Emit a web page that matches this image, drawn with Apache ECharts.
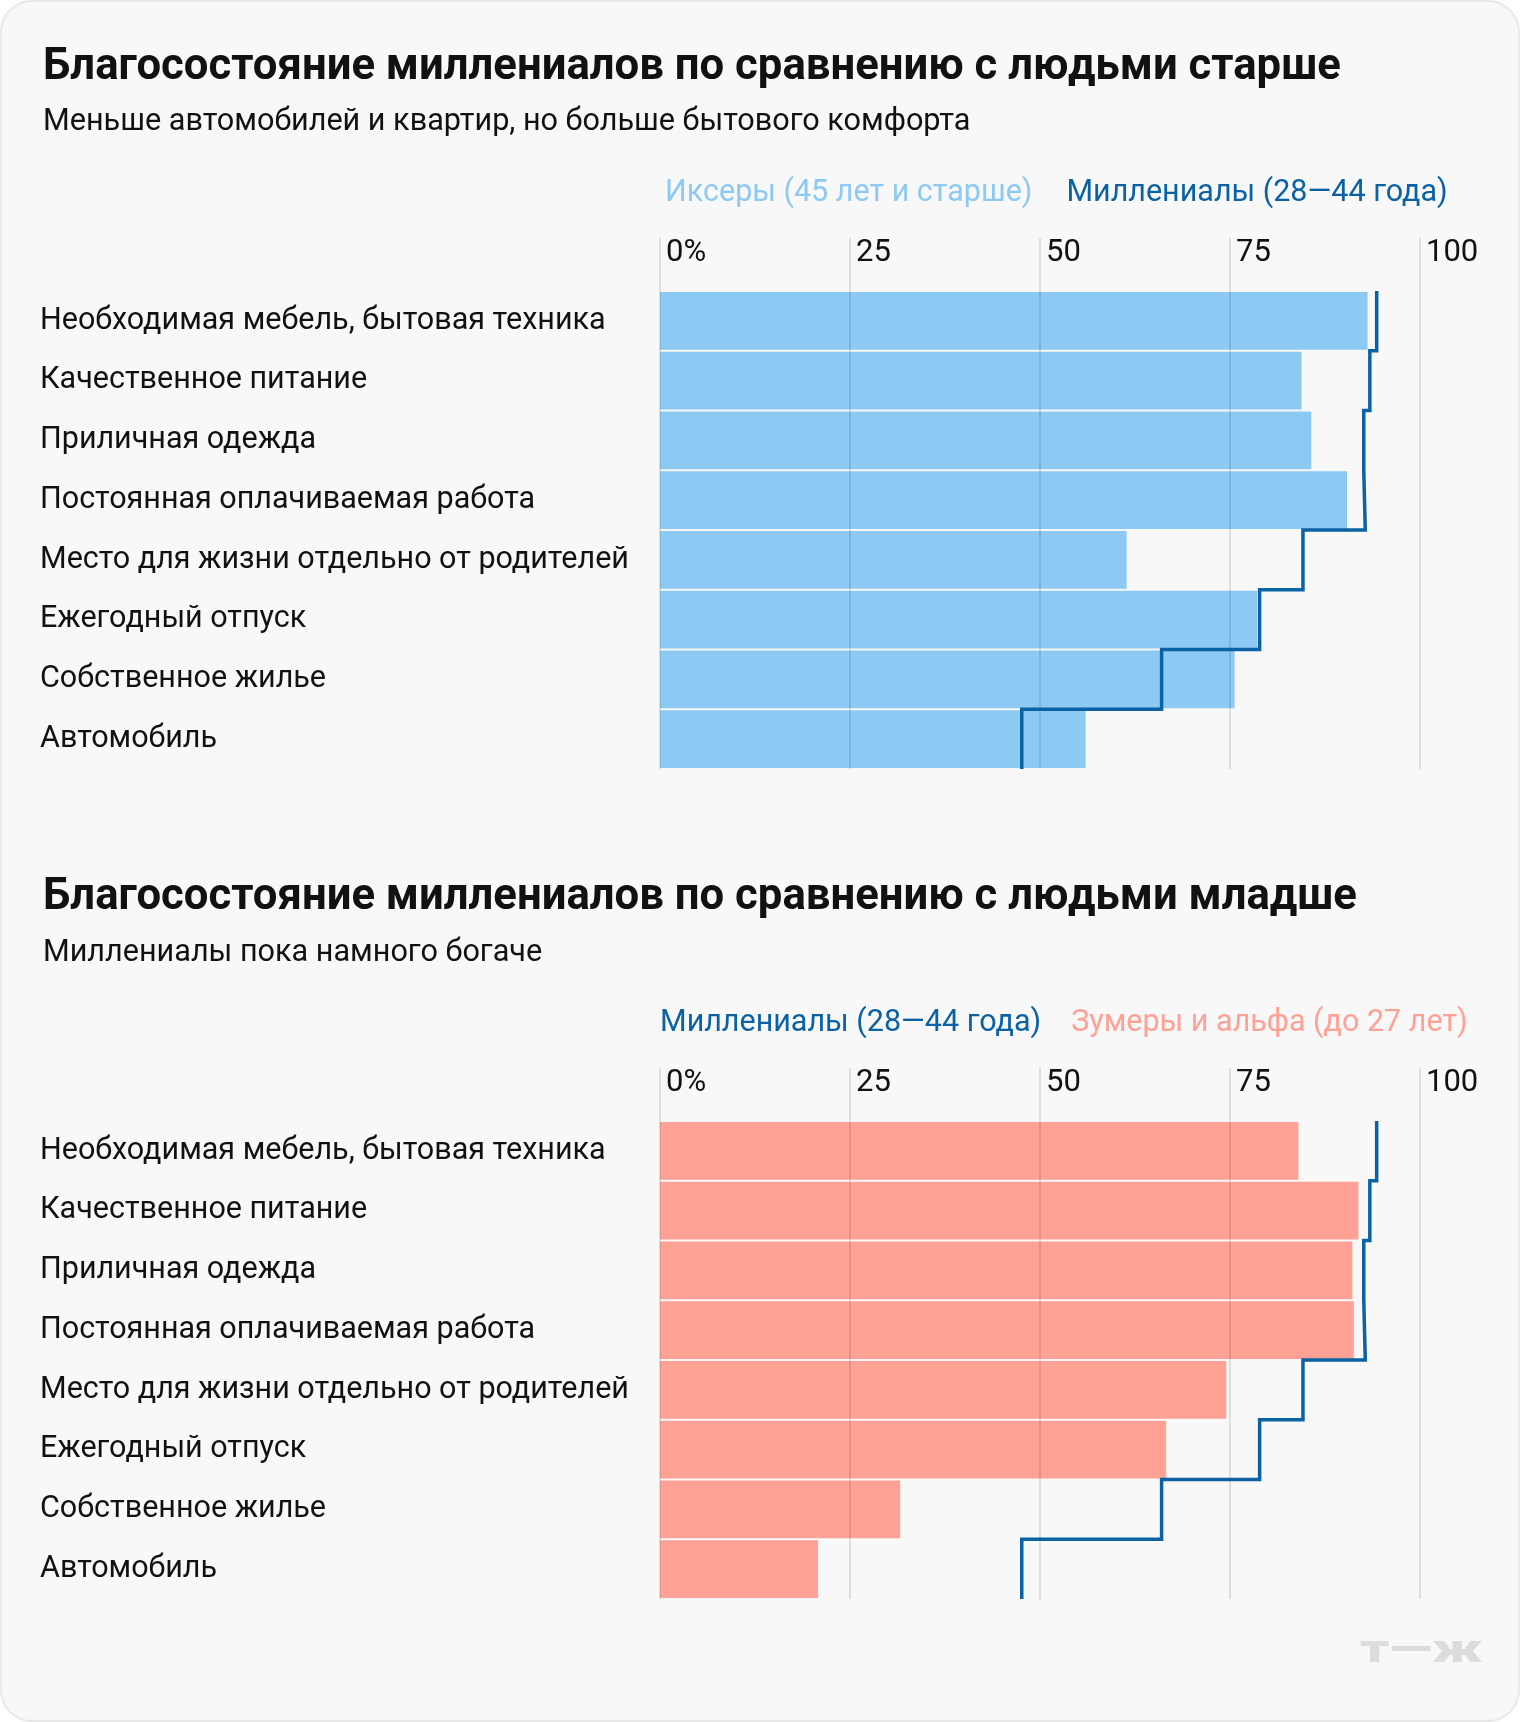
<!DOCTYPE html>
<html>
<head>
<meta charset="utf-8">
<script src="https://cdn.jsdelivr.net/npm/echarts@6/dist/echarts.min.js"></script>
<style>
  html, body { margin: 0; padding: 0; background: #ffffff; }
  #panel {
    position: absolute; left: 0; top: 0; width: 1520px; height: 1722px;
    box-sizing: border-box; border: 2px solid #e9e9e9; border-radius: 32px;
    background: #f8f8f8; overflow: hidden;
  }
  #chart { position: absolute; left: 0; top: 0; width: 1520px; height: 1722px; }
</style>
</head>
<body>
<div id="panel"></div>
<div id="chart"></div>
<script>
const categories = [
  'Необходимая мебель, бытовая техника',
  'Качественное питание',
  'Приличная одежда',
  'Постоянная оплачиваемая работа',
  'Место для жизни отдельно от родителей',
  'Ежегодный отпуск',
  'Собственное жилье',
  'Автомобиль'
];
const genX = [93.1, 84.4, 85.7, 90.4, 61.4, 78.6, 75.6, 56.0];
const millennials = [94.3, 93.4, 92.6, 92.8, 84.6, 78.9, 66.0, 47.6];
const genZ = [84.0, 91.9, 91.1, 91.3, 74.5, 66.6, 31.6, 20.8];
const tickValues = [0, 25, 50, 75, 100];
const tickLabels = ['0%', '25', '50', '75', '100'];

const nameX = 'Иксеры (45 лет и старше)';
const nameM = 'Миллениалы (28—44 года)';
const nameZ = 'Зумеры и альфа (до 27 лет)';

const COL_X = '#8cc9f3';
const COL_M = '#0a61a3';
const COL_Z = '#ffa194';
const FONT = 'Roboto';

function stepData(values) {
  const out = [];
  values.forEach((v, i) => { out.push([v, i]); out.push([v, i + 1]); });
  return out;
}

function xAxisFor(gi) {
  return {
    type: 'value', gridIndex: gi, position: 'top', min: 0, max: 100,
    interval: tickValues[1] - tickValues[0], z: 3,
    axisLine: { show: false },
    axisTick: { show: true, length: 53, lineStyle: { color: 'rgba(0,0,0,0.1)', width: 2 } },
    splitLine: { show: true, lineStyle: { color: 'rgba(0,0,0,0.1)', width: 2 } },
    axisLabel: {
      margin: 38, align: 'left', verticalAlign: 'middle', padding: [0, 0, 0, 6],
      fontSize: 31, fontFamily: FONT, color: '#111',
      formatter: v => tickLabels[tickValues.indexOf(v)]
    }
  };
}
function yCatFor(gi) {
  return {
    type: 'category', gridIndex: gi, inverse: true, data: categories,
    axisLine: { show: false }, axisTick: { show: false }, splitLine: { show: false },
    axisLabel: { margin: 620, align: 'left', verticalAlign: 'middle', padding: [7, 0, 0, 0],
      fontSize: 30.5, fontFamily: FONT, color: '#111' }
  };
}
function yValFor(gi) {
  return { type: 'value', gridIndex: gi, min: 0, max: categories.length, inverse: true, show: false, splitLine: { show: false } };
}

const chart = echarts.init(document.getElementById('chart'), null, { renderer: 'canvas' });
chart.setOption({
  backgroundColor: 'transparent',
  animation: false,
  title: [
    { text: 'Благосостояние миллениалов по сравнению с людьми старше', left: 38, top: 41,
      textStyle: { fontSize: 43.7, fontWeight: 'bold', fontFamily: FONT, color: '#111' } },
    { text: 'Меньше автомобилей и квартир, но больше бытового комфорта', left: 38, top: 102,
      textStyle: { fontSize: 30.6, fontWeight: 'normal', fontFamily: FONT, color: '#111' } },
    { text: 'Благосостояние миллениалов по сравнению с людьми младше', left: 38, top: 871,
      textStyle: { fontSize: 43.7, fontWeight: 'bold', fontFamily: FONT, color: '#111' } },
    { text: 'Миллениалы пока намного богаче', left: 38, top: 933,
      textStyle: { fontSize: 30.6, fontWeight: 'normal', fontFamily: FONT, color: '#111' } }
  ],
  legend: [
    { left: 655, top: 173, icon: 'rect', itemWidth: 0, itemHeight: 0, itemGap: 29, selectedMode: false,
      textStyle: { fontSize: 30.5, fontFamily: FONT },
      data: [ { name: nameX, textStyle: { color: COL_X } }, { name: nameM, textStyle: { color: COL_M } } ] },
    { left: 650, top: 1003, icon: 'rect', itemWidth: 0, itemHeight: 0, itemGap: 25, selectedMode: false,
      textStyle: { fontSize: 30.5, fontFamily: FONT },
      data: [ { name: nameM, textStyle: { color: COL_M } }, { name: nameZ, textStyle: { color: COL_Z } } ] }
  ],
  grid: [
    { left: 660, width: 760, top: 291, height: 478 },
    { left: 660, width: 760, top: 1121, height: 478 }
  ],
  xAxis: [ xAxisFor(0), xAxisFor(1) ],
  yAxis: [ yCatFor(0), yValFor(0), yCatFor(1), yValFor(1) ],
  series: [
    { name: nameX, type: 'bar', xAxisIndex: 0, yAxisIndex: 0, data: genX, barCategoryGap: '3.5%',
      itemStyle: { color: COL_X }, z: 2 },
    { name: nameM, type: 'line', xAxisIndex: 0, yAxisIndex: 1, data: stepData(millennials),
      symbol: 'none', lineStyle: { color: COL_M, width: 3.5, join: 'miter', cap: 'butt' }, itemStyle: { color: COL_M }, z: 5 },
    { name: nameZ, type: 'bar', xAxisIndex: 1, yAxisIndex: 2, data: genZ, barCategoryGap: '3.5%',
      itemStyle: { color: COL_Z }, z: 2 },
    { name: nameM, type: 'line', xAxisIndex: 1, yAxisIndex: 3, data: stepData(millennials),
      symbol: 'none', lineStyle: { color: COL_M, width: 3.5, join: 'miter', cap: 'butt' }, itemStyle: { color: COL_M }, z: 5 }
  ],
  graphic: [
    { type: 'text', x: 1360, y: 1652, scaleX: 1.48, scaleY: 1,
      style: { text: 'т—ж', font: '900 38px Roboto', fill: '#dcdcdc', verticalAlign: 'middle', align: 'left' } }
  ]
});
</script>
</body>
</html>
